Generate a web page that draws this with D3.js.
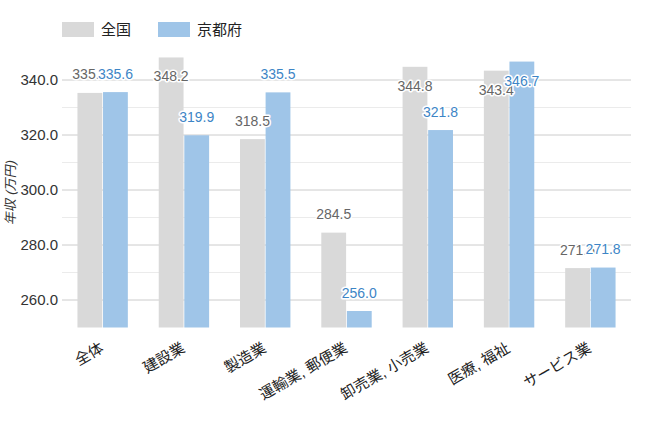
<!DOCTYPE html>
<html><head><meta charset="utf-8">
<script src="https://cdn.jsdelivr.net/npm/d3@7"></script>
<style>
html,body{margin:0;padding:0;background:#fff;}
text{font-family:"Liberation Sans","Noto Sans CJK JP",Arial,sans-serif;}
</style></head>
<body><svg id="c" width="652" height="424"></svg>
<script>
const categories = ["全体","建設業","製造業","運輸業, 郵便業","卸売業, 小売業","医療, 福祉","サービス業"];
const seriesNames = ["全国","京都府"];
const national = [335.3, 348.2, 318.5, 284.5, 344.8, 343.4, 271.6];
const kyoto = [335.6, 319.9, 335.5, 256.0, 321.8, 346.7, 271.8];
const majorTicks = [260, 280, 300, 320, 340];
const minorTicks = [270, 290, 310, 330];
const colors = ["#d9d9d9", "#9fc5e8"];
const labelColors = ["#666666", "#3d85c6"];

const svg = d3.select("#c");
const pLeft = 62, pRight = 631, pTop = 25, pBottom = 327.5;
const y = d3.scaleLinear().domain([250, 360]).range([pBottom, pTop]);
const x = d3.scaleBand().domain(categories).range([pLeft, pRight]).paddingInner(0.38).paddingOuter(0.19);
const xs = d3.scaleBand().domain(seriesNames).range([0, x.bandwidth()]).paddingInner(0.03);
const fmt = d3.format(".1f");

// grid
svg.append("g").selectAll("line").data(minorTicks).join("line")
  .attr("x1", pLeft).attr("x2", pRight).attr("y1", d => y(d)).attr("y2", d => y(d))
  .attr("stroke", "#ebebeb").attr("stroke-width", 1);
svg.append("g").selectAll("line").data(majorTicks).join("line")
  .attr("x1", pLeft).attr("x2", pRight).attr("y1", d => y(d)).attr("y2", d => y(d))
  .attr("stroke", "#cccccc").attr("stroke-width", 1);

// y axis labels
const yAxis = d3.axisLeft(y).tickValues(majorTicks).tickFormat(fmt).tickSize(0).tickPadding(4);
const ya = svg.append("g").attr("transform", `translate(${pLeft},0)`).call(yAxis);
ya.select(".domain").remove();
ya.selectAll("text").attr("font-size", 15).attr("fill", "#333")
  .style("font-family", '"Liberation Sans","Noto Sans CJK JP",Arial,sans-serif');

svg.append("text").attr("transform", `translate(15,193) rotate(-90) skewX(-12)`)
  .attr("text-anchor", "middle").attr("font-size", 13).attr("fill", "#333").text("年収 (万円)");

const seriesData = [national, kyoto];
// bars
seriesData.forEach((vals, si) => {
  svg.append("g").selectAll("rect").data(vals).join("rect")
    .attr("x", (d, i) => x(categories[i]) + xs(seriesNames[si]))
    .attr("width", xs.bandwidth())
    .attr("y", d => y(d))
    .attr("height", d => pBottom - y(d))
    .attr("fill", colors[si]);
});
// value labels
seriesData.forEach((vals, si) => {
  svg.append("g").selectAll("text").data(vals).join("text")
    .attr("x", (d, i) => x(categories[i]) + xs(seriesNames[si]) + xs.bandwidth() / 2)
    .attr("y", d => { const t = y(d); return (t - 18 < 62) ? t + 24 : t - 13.5; })
    .attr("text-anchor", "middle").attr("font-size", 14)
    .attr("fill", labelColors[si])
    .attr("stroke", "#fff").attr("stroke-width", 3).attr("paint-order", "stroke")
    .attr("stroke-linejoin", "round")
    .text(d => fmt(d));
});

// x labels
const xa = svg.append("g").attr("transform", `translate(0,${pBottom})`)
  .call(d3.axisBottom(x).tickSize(0).tickPadding(0));
xa.select(".domain").remove();
xa.selectAll("text").attr("font-size", 15).attr("fill", "#222")
  .style("font-family", '"Liberation Sans","Noto Sans CJK JP",Arial,sans-serif')
  .attr("text-anchor", "end").attr("dy", 0).attr("y", 0)
  .attr("transform", "translate(2,23.5) rotate(-30)");

// legend
const lg = svg.append("g");
const legX = [62, 158];
seriesNames.forEach((n, i) => {
  lg.append("rect").attr("x", legX[i]).attr("y", 22).attr("width", 32).attr("height", 15).attr("fill", colors[i]);
  lg.append("text").attr("x", legX[i] + 39).attr("y", 35).attr("font-size", 15).attr("fill", "#222").text(n);
});
</script></body></html>
